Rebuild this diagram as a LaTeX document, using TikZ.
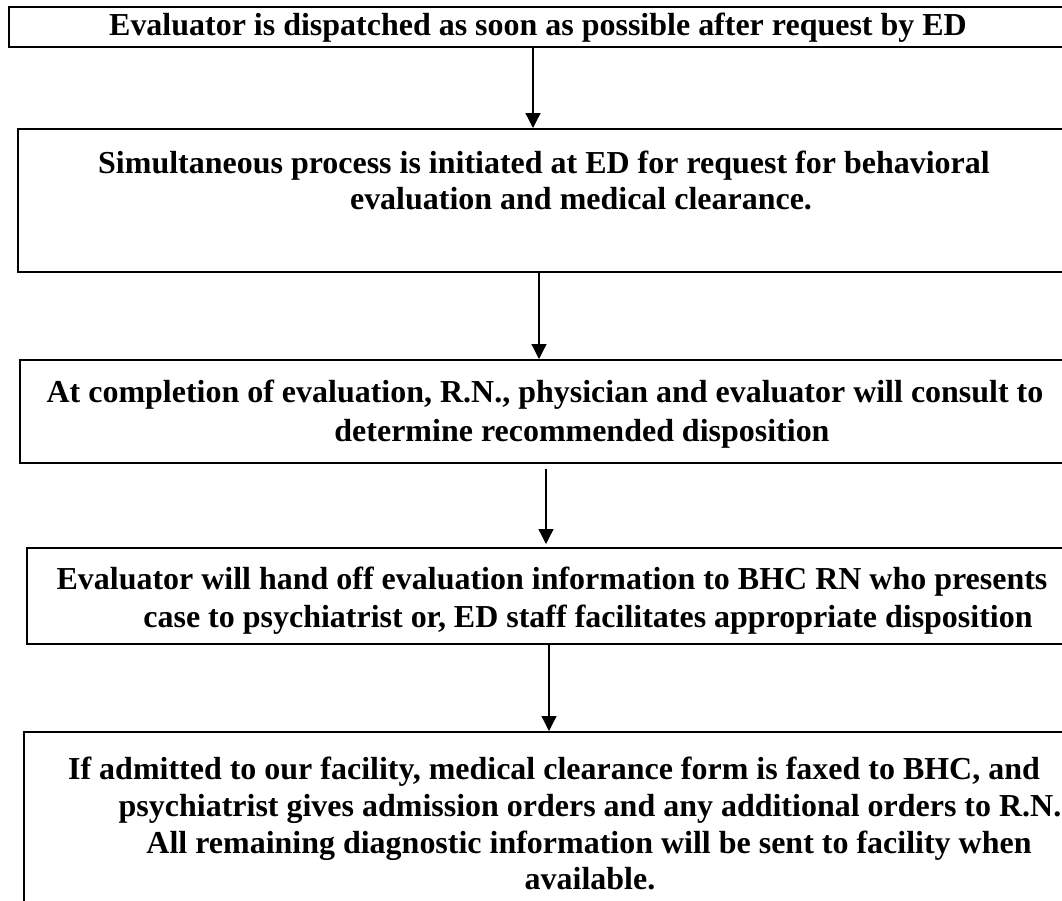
\documentclass[tikz,border=0pt]{standalone}
\usepackage{fontspec}
\setmainfont{Liberation Serif}
\usetikzlibrary{arrows.meta}
\begin{document}
\begin{tikzpicture}[x=1bp,y=-1bp,
  box/.style={draw, line width=1.8bp, inner sep=0, anchor=north west, minimum width=1200bp},
  txt/.style={font=\fontsize{32.1}{37}\selectfont\bfseries, inner sep=0, anchor=base},
  arr/.style={-{Triangle[length=15bp,width=15bp]}, line width=1.3bp}]
\useasboundingbox (0,0) rectangle (1062,901);
\clip (0,0) rectangle (1062,901);
% boxes
\node[box, minimum height=40bp] (b1) at (8,6) {};
\node[box, minimum height=143bp] (b2) at (17,128) {};
\node[box, minimum height=103bp] (b3) at (19,359) {};
\node[box, minimum height=96bp] (b4) at (26,547) {};
\node[box, minimum height=260bp] (b5) at (23,731) {};
% texts
\node[txt] (t1) at (538,35) {Evaluator is dispatched as soon as possible after request by ED};
\node[txt] (t2a) at (544,173) {Simultaneous process is initiated at ED for request for behavioral};
\node[txt] (t2b) at (581,209) {evaluation and medical clearance.};
\node[txt] (t3a) at (545,402) {At completion of evaluation, R.N., physician and evaluator will consult to};
\node[txt] (t3b) at (582,441) {determine recommended disposition};
\node[txt] (t4a) at (552,589) {Evaluator will hand off evaluation information to BHC RN who presents};
\node[txt] (t4b) at (588,627) {case to psychiatrist or, ED staff facilitates appropriate disposition};
\node[txt] (t5a) at (554,779) {If admitted to our facility, medical clearance form is faxed to BHC, and};
\node[txt] (t5b) at (590,816) {psychiatrist gives admission orders and any additional orders to R.N.};
\node[txt] (t5c) at (589,853) {All remaining diagnostic information will be sent to facility when};
\node[txt] (t5d) at (590,889) {available.};
% arrows
\coordinate (x1) at (533,0);
\coordinate (x2) at (539,0);
\coordinate (x3) at (546,0);
\coordinate (x4) at (549,0);
\draw[arr] (b1.south -| x1) -- (b2.north -| x1);
\draw[arr] (b2.south -| x2) -- (b3.north -| x2);
\draw[arr] ([yshift=-5bp]b3.south -| x3) -- ([yshift=3bp]b4.north -| x3);
\draw[arr] (b4.south -| x4) -- (b5.north -| x4);
\end{tikzpicture}
\end{document}
